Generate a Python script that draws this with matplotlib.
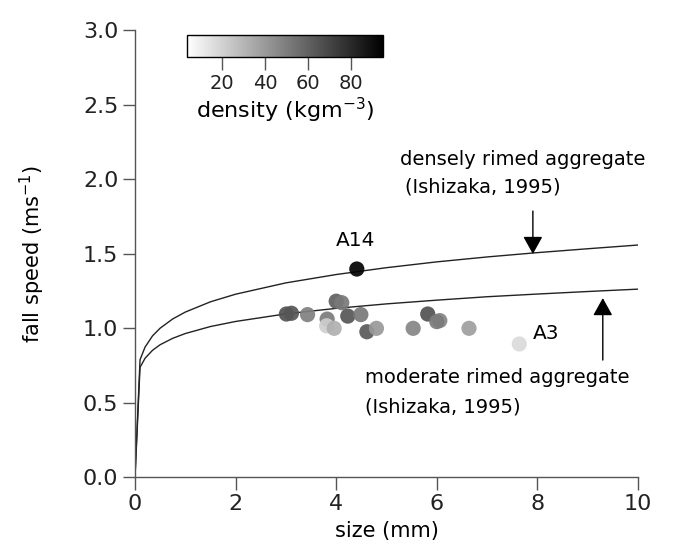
"""
Fall speed vs. size of rimed aggregates, coloured by density, with the
Ishizaka (1995) relations for densely and moderately rimed aggregates.
"""
import numpy as np
import matplotlib
matplotlib.use('Agg')
import matplotlib.pyplot as plt
from matplotlib.colors import Normalize

plt.rcParams['font.family'] = ['DejaVu Sans']

# -------- DATA --------
# Ishizaka (1995) curves
curveSize = [0, 0.1, 0.2, 0.35, 0.5, 0.75, 1, 1.5, 2, 3, 4, 5, 6, 7, 8, 9, 10]
denseSpeed = [0, 0.787, 0.872, 0.948, 0.999, 1.061, 1.107, 1.176, 1.227, 1.303,
              1.359, 1.405, 1.444, 1.477, 1.506, 1.532, 1.557]
moderateSpeed = [0, 0.736, 0.797, 0.851, 0.888, 0.931, 0.963, 1.010, 1.044, 1.095,
                 1.132, 1.162, 1.187, 1.210, 1.228, 1.245, 1.261]

# observed particles: size (mm), fall speed (m/s), density (kg/m3)
obsSize = [3.01, 3.11, 3.43, 4.00, 4.11, 3.82, 3.81, 3.96, 4.23, 4.49, 4.61, 4.80,
           5.53, 5.82, 6.06, 6.00, 6.64, 7.64, 4.41]
obsSpeed = [1.094, 1.099, 1.090, 1.180, 1.170, 1.060, 1.015, 0.998, 1.080, 1.090,
            0.975, 0.998, 0.998, 1.094, 1.050, 1.043, 0.998, 0.893, 1.396]
obsDensity = [66, 64, 49, 61, 52, 51, 21, 32, 64, 52, 63, 40,
              47, 66, 47, 51, 38, 17, 94]

densityMin, densityMax = 3.5, 95
densityTicks = [20, 40, 60, 80]
# -------- DATA. --------

# -------- CREATE THE FIGURE --------
fig = plt.figure(figsize=(6.73, 5.5), dpi=100, facecolor='w')
ax = fig.add_axes([0.2006, 0.1327, 0.7474, 0.8127])

axisColor = '#555555'

ax.plot(curveSize, denseSpeed, color='#222222', lw=1.0)
ax.plot(curveSize, moderateSpeed, color='#222222', lw=1.0)

norm = Normalize(vmin=densityMin, vmax=densityMax)
sc = ax.scatter(obsSize, obsSpeed, c=obsDensity, cmap='gray_r', norm=norm,
                s=120, edgecolors='none', alpha=0.92, zorder=3)

ax.set_xlim(0, 10)
ax.set_ylim(0, 3.0)
ax.set_xticks([0, 2, 4, 6, 8, 10])
ax.set_yticks([0.0, 0.5, 1.0, 1.5, 2.0, 2.5, 3.0])
ax.set_yticklabels(['0.0', '0.5', '1.0', '1.5', '2.0', '2.5', '3.0'])

for side in ['top', 'right']:
    ax.spines[side].set_visible(False)
for side in ['left', 'bottom']:
    ax.spines[side].set_color(axisColor)
    ax.spines[side].set_linewidth(1.0)
ax.tick_params(direction='out', length=9, width=1.0, color=axisColor,
               labelsize=16, labelcolor='#222222', pad=3)

ax.set_xlabel('size (mm)', fontsize=15, labelpad=5)
ax.set_ylabel('fall speed (ms$^{-1}$)', fontsize=15, labelpad=26)

# ---- Annotations
ax.text(5.27, 2.128, 'densely rimed aggregate', fontsize=14, va='center', ha='left')
ax.text(5.37, 1.946, '(Ishizaka, 1995)', fontsize=14, va='center', ha='left')
ax.text(4.57, 0.671, 'moderate rimed aggregate', fontsize=14, va='center', ha='left')
ax.text(4.57, 0.470, '(Ishizaka, 1995)', fontsize=14, va='center', ha='left')
ax.text(4.39, 1.59, 'A14', fontsize=14.5, va='center', ha='center')
ax.text(7.91, 0.966, 'A3', fontsize=14.5, va='center', ha='left')

arrowProps = dict(arrowstyle='-|>,head_length=0.54,head_width=0.3', mutation_scale=20,
                  lw=1.0, color='black', shrinkA=0, shrinkB=0)
ax.annotate('', xy=(7.91, 1.497), xytext=(7.91, 1.785), arrowprops=arrowProps)
ax.annotate('', xy=(9.30, 1.201), xytext=(9.30, 0.785), arrowprops=arrowProps)
# ---- Annotations.

# ---- Colour bar
cax = fig.add_axes([187 / 673, 1 - 57 / 550, 196 / 673, 22 / 550])
cb = fig.colorbar(sc, cax=cax, orientation='horizontal')
cb.solids.set_alpha(1)
cb.set_ticks(densityTicks)
cb.outline.set_linewidth(1.0)
cax.tick_params(direction='out', length=9, width=1.0, color=axisColor,
                labelsize=14, labelcolor='#222222', pad=3)
cb.set_label('density (kgm$^{-3}$)', fontsize=16, labelpad=2)
# ---- Colour bar.

plt.savefig('out.png', dpi=100)
plt.close()
